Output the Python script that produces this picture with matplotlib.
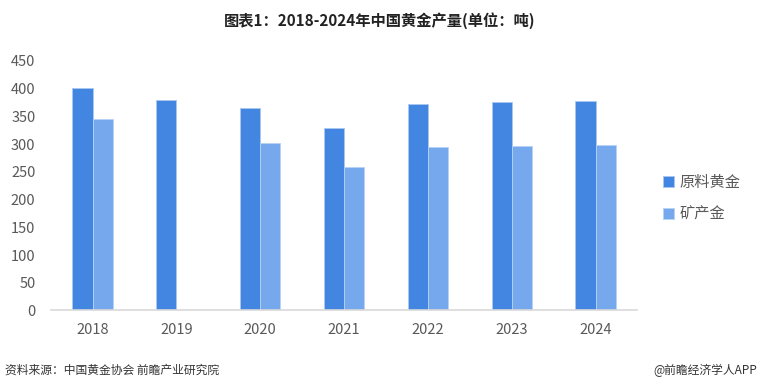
import numpy as np
import matplotlib.pyplot as plt

plt.rcParams['font.family'] = ['Noto Sans CJK SC', 'DejaVu Sans']

# data (tonnes)
years = ['2018', '2019', '2020', '2021', '2022', '2023', '2024']
raw_gold = [401.1, 380.2, 365.3, 328.9, 372.0, 375.2, 377.2]
mine_gold = [346.0, np.nan, 301.7, 258.1, 294.6, 296.0, 297.7]
series_names = ['原料黄金', '矿产金']

fig = plt.figure(figsize=(7.6, 3.91), dpi=100)
ax = fig.add_axes([0.0667, 0.206, 0.772, 0.638])

x = np.arange(len(years))
w = 0.24
ax.bar(x - w / 2, raw_gold, w, color='#4286E2', edgecolor='#A9C8F2', linewidth=0.6, label=series_names[0])
ax.bar(x + w / 2, mine_gold, w, color='#75A8EC', edgecolor='#B8D2F5', linewidth=0.6, label=series_names[1])

ax.set_xlim(-0.5, len(years) - 0.5)
ax.set_ylim(0, 450)
ax.set_yticks(np.arange(0, 451, 50))
ax.set_xticks(x)
ax.set_xticklabels(years)
ax.tick_params(axis='both', length=0, labelsize=10.5, colors='#595959')
ax.tick_params(axis='x', pad=9)
ax.tick_params(axis='y', pad=11)
for s in ['top', 'right', 'left']:
    ax.spines[s].set_visible(False)
ax.spines['bottom'].set_color('#D9D9D9')
ax.spines['bottom'].set_linewidth(1.2)

leg = ax.legend(loc='center left', bbox_to_anchor=(1.02, 0.45), frameon=False,
                fontsize=11, handlelength=0.7, handleheight=0.7, handletextpad=0.4,
                labelspacing=1.0)
for t in leg.get_texts():
    t.set_color('#595959')

fig.text(0.5, 0.948, '图表1：2018-2024年中国黄金产量(单位：吨)', ha='center', va='center',
         fontsize=11, fontweight='bold', color='#222222')
fig.text(0.006, 0.053, '资料来源：中国黄金协会 前瞻产业研究院', ha='left', va='center',
         fontsize=8.5, color='#333333')
fig.text(0.996, 0.053, '@前瞻经济学人APP', ha='right', va='center',
         fontsize=8.5, color='#333333')

fig.savefig('out.png', dpi=100)
